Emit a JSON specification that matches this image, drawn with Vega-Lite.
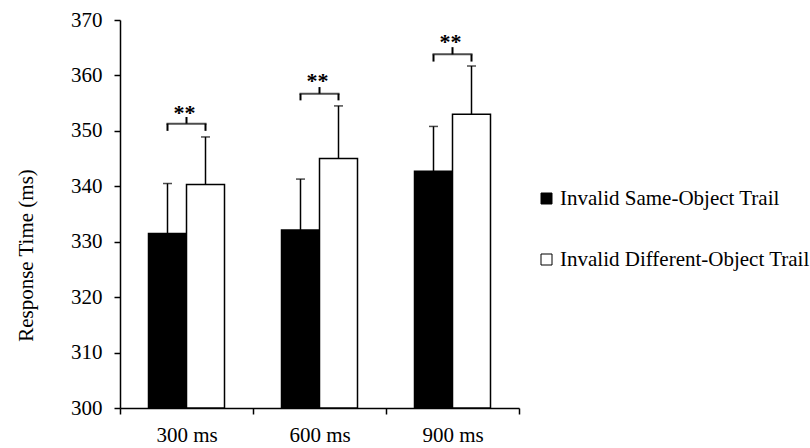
{
  "$schema": "https://vega.github.io/schema/vega-lite/v6.json",
  "width": 399,
  "height": 388,
  "autosize": {"type": "none"},
  "padding": {"left": 120, "top": 20, "right": 291, "bottom": 40},
  "background": "white",
  "config": {
    "view": {"stroke": null},
    "font": "Liberation Serif",
    "axis": {"grid": false, "domainColor": "black", "tickColor": "black", "labelColor": "black", "titleColor": "black", "labelFont": "Liberation Serif", "titleFont": "Liberation Serif", "domainWidth": 1.5, "tickWidth": 1.5},
    "legend": {"labelFont": "Liberation Serif"},
    "text": {"font": "Liberation Serif"}
  },
  "datasets": {
    "bars": [
      {"time": "300 ms", "cond": "Invalid Same-Object Trail", "rt": 331.5, "err": 340.5},
      {"time": "300 ms", "cond": "Invalid Different-Object Trail", "rt": 340.3, "err": 348.9},
      {"time": "600 ms", "cond": "Invalid Same-Object Trail", "rt": 332.1, "err": 341.3},
      {"time": "600 ms", "cond": "Invalid Different-Object Trail", "rt": 345.0, "err": 354.5},
      {"time": "900 ms", "cond": "Invalid Same-Object Trail", "rt": 342.7, "err": 350.8},
      {"time": "900 ms", "cond": "Invalid Different-Object Trail", "rt": 353.0, "err": 361.7}
    ],
    "legs": [
      {"time": "300 ms", "cond": "Invalid Same-Object Trail", "low": 350.0, "high": 351.3},
      {"time": "300 ms", "cond": "Invalid Different-Object Trail", "low": 350.0, "high": 351.3},
      {"time": "600 ms", "cond": "Invalid Same-Object Trail", "low": 355.5, "high": 356.7},
      {"time": "600 ms", "cond": "Invalid Different-Object Trail", "low": 355.5, "high": 356.7},
      {"time": "900 ms", "cond": "Invalid Same-Object Trail", "low": 362.5, "high": 363.8},
      {"time": "900 ms", "cond": "Invalid Different-Object Trail", "low": 362.5, "high": 363.8}
    ],
    "sig": [
      {"time": "300 ms", "top": 351.3, "spike": 352.5, "star": 351.9, "label": "**"},
      {"time": "600 ms", "top": 356.7, "spike": 357.9, "star": 357.7, "label": "**"},
      {"time": "900 ms", "top": 363.8, "spike": 365.1, "star": 364.7, "label": "**"}
    ]
  },
  "layer": [
    {
      "data": {"name": "bars"},
      "mark": {"type": "bar", "stroke": "black", "strokeWidth": 1.5},
      "encoding": {
        "x": {"field": "time", "type": "nominal", "sort": null,
              "scale": {"paddingInner": 0, "paddingOuter": 0},
              "axis": {"title": null, "labelAngle": 0, "tickBand": "extent", "labelFontSize": 21, "tickSize": 6, "labelPadding": 10}},
        "xOffset": {"field": "cond", "type": "nominal", "sort": ["Invalid Same-Object Trail", "Invalid Different-Object Trail"],
                    "scale": {"paddingInner": 0, "paddingOuter": 0.75}},
        "y": {"field": "rt", "type": "quantitative",
              "scale": {"domain": [300, 370], "zero": false, "nice": false},
              "axis": {"title": "Response Time (ms)", "values": [300, 310, 320, 330, 340, 350, 360, 370], "labelFontSize": 21, "titleFontSize": 21, "titleFontWeight": "normal", "tickSize": 6, "labelPadding": 12, "titlePadding": 34, "titleY": 235}},
        "y2": {"datum": 300},
        "fill": {"field": "cond", "type": "nominal", "sort": ["Invalid Same-Object Trail", "Invalid Different-Object Trail"],
                 "scale": {"range": ["black", "white"]},
                 "legend": {"title": null, "orient": "none", "legendX": 416, "legendY": 168, "symbolType": "square", "symbolSize": 121, "symbolStrokeColor": "black", "symbolStrokeWidth": 1, "labelFontSize": 21, "labelColor": "black", "rowPadding": 39, "labelOffset": 3, "labelLimit": 400}}
      }
    },
    {
      "data": {"name": "bars"},
      "mark": {"type": "rule", "color": "black", "strokeWidth": 1.5},
      "encoding": {
        "x": {"field": "time", "type": "nominal", "sort": null},
        "xOffset": {"field": "cond", "type": "nominal", "sort": ["Invalid Same-Object Trail", "Invalid Different-Object Trail"]},
        "y": {"field": "rt", "type": "quantitative"},
        "y2": {"field": "err"}
      }
    },
    {
      "data": {"name": "bars"},
      "mark": {"type": "tick", "color": "black", "size": 9, "thickness": 1.5},
      "encoding": {
        "x": {"field": "time", "type": "nominal", "sort": null},
        "xOffset": {"field": "cond", "type": "nominal", "sort": ["Invalid Same-Object Trail", "Invalid Different-Object Trail"]},
        "y": {"field": "err", "type": "quantitative"}
      }
    },
    {
      "data": {"name": "legs"},
      "mark": {"type": "rule", "color": "black", "strokeWidth": 2},
      "encoding": {
        "x": {"field": "time", "type": "nominal", "sort": null},
        "xOffset": {"field": "cond", "type": "nominal", "sort": ["Invalid Same-Object Trail", "Invalid Different-Object Trail"]},
        "y": {"field": "low", "type": "quantitative"},
        "y2": {"field": "high"}
      }
    },
    {
      "data": {"name": "sig"},
      "mark": {"type": "tick", "color": "black", "size": 40, "thickness": 2},
      "encoding": {
        "x": {"field": "time", "type": "nominal", "sort": null},
        "y": {"field": "top", "type": "quantitative"}
      }
    },
    {
      "data": {"name": "sig"},
      "mark": {"type": "rule", "color": "black", "strokeWidth": 2},
      "encoding": {
        "x": {"field": "time", "type": "nominal", "sort": null},
        "y": {"field": "top", "type": "quantitative"},
        "y2": {"field": "spike"}
      }
    },
    {
      "data": {"name": "sig"},
      "mark": {"type": "text", "color": "black", "fontSize": 22, "fontWeight": "bold", "baseline": "alphabetic", "align": "center", "dx": -2},
      "encoding": {
        "x": {"field": "time", "type": "nominal", "sort": null},
        "y": {"field": "star", "type": "quantitative"},
        "text": {"field": "label"}
      }
    }
  ]
}
